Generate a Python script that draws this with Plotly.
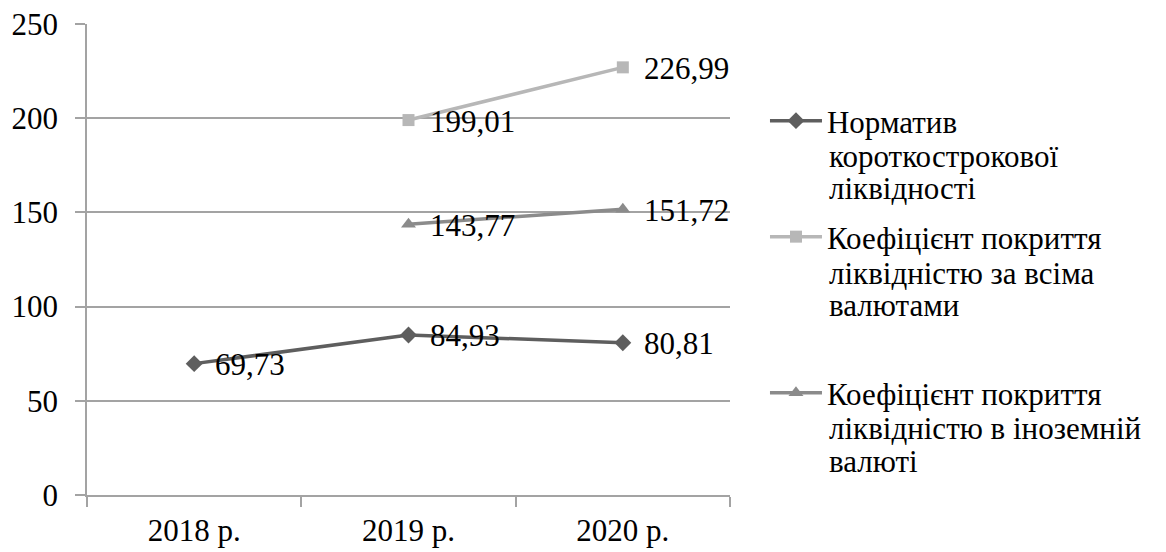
import plotly.graph_objects as go

# Categories and series values
years = ["2018 р.", "2019 р.", "2020 р."]
short_term_ratio = [69.73, 84.93, 80.81]
lcr_all_currencies = [None, 199.01, 226.99]
lcr_foreign_currency = [None, 143.77, 151.72]

# Legend captions, one list of text lines per series
legend_lines = [
    ["Норматив", "короткострокової", "ліквідності"],
    ["Коефіцієнт покриття", "ліквідністю за всіма", "валютами"],
    ["Коефіцієнт покриття", "ліквідністю в іноземній", "валюті"],
]

FONT = "Times New Roman"
FS = 31
GRID = "#a3a3a3"
TEXT_FONT = dict(family=FONT, size=FS, color="#000000")

# plot area spans 24..495 px vertically; convert pixel rows to paper units
PLOT_TOP, PLOT_BOTTOM = 24, 495


def paper_y(px):
    return (PLOT_BOTTOM - px) / (PLOT_BOTTOM - PLOT_TOP)


series = [
    (short_term_ratio, "#5e5e5e", "diamond", 13),
    (lcr_all_currencies, "#b7b7b7", "square", 12),
    (lcr_foreign_currency, "#8b8b8b", "triangle-up", 13),
]
# legend block tops and the rows of the caption continuation lines (px)
legend_top_px = [94, 210, 366]
caption_rows_px = [[156, 188], [273, 305], [428, 461]]
LEGEND_X = 1.0544
TEXT_X = 1.154

fig = go.Figure()
annotations = []
layout_legends = {}
for i, ((values, color, symbol, msize), lines) in enumerate(zip(series, legend_lines)):
    leg = "legend" if i == 0 else f"legend{i + 1}"
    fig.add_trace(go.Scatter(
        x=years, y=values, name=lines[0], mode="lines+markers",
        line=dict(color=color, width=3.5),
        marker=dict(symbol=symbol, size=msize, color=color),
        legend=leg, connectgaps=False,
    ))
    layout_legends[leg] = dict(
        font=TEXT_FONT,
        bgcolor="rgba(0,0,0,0)", valign="middle",
        xanchor="left", yanchor="top", x=LEGEND_X,
        y=paper_y(legend_top_px[i]),
        itemwidth=52,
    )
    # data labels to the right of each point
    for x, v in zip(years, values):
        if v is None:
            continue
        annotations.append(dict(
            x=x, y=v, xref="x", yref="y",
            text=f"{v:.2f}".replace(".", ","),
            showarrow=False, xanchor="left", yanchor="middle",
            xshift=19, yshift=-1,
            font=TEXT_FONT,
        ))
    # continuation lines of the legend caption
    for line, row in zip(lines[1:], caption_rows_px[i]):
        annotations.append(dict(
            x=TEXT_X, y=paper_y(row), xref="paper", yref="paper",
            text=line, showarrow=False, xanchor="left", yanchor="middle",
            xshift=-2,
            font=TEXT_FONT,
        ))

fig.update_layout(
    width=1166, height=552,
    margin=dict(l=87, r=436, t=PLOT_TOP, b=552 - PLOT_BOTTOM),
    paper_bgcolor="white", plot_bgcolor="white",
    showlegend=True,
    annotations=annotations,
    xaxis=dict(
        type="category", tickson="boundaries", range=[-0.5, 2.5],
        showline=True, linecolor=GRID, linewidth=1.5,
        ticks="outside", ticklen=10, tickcolor=GRID, tickwidth=1.5,
        showgrid=False, zeroline=False, ticklabelstandoff=7,
        automargin=False,
        tickfont=TEXT_FONT,
    ),
    yaxis=dict(
        range=[0, 250], tickvals=[0, 50, 100, 150, 200, 250],
        showline=True, linecolor=GRID, linewidth=1.5,
        ticks="outside", ticklen=10, tickcolor=GRID, tickwidth=1.5,
        showgrid=True, gridcolor=GRID, gridwidth=1.5,
        zeroline=False, ticklabelstandoff=11, automargin=False,
        tickfont=TEXT_FONT,
    ),
    **layout_legends,
)

fig.write_html("out.html")
